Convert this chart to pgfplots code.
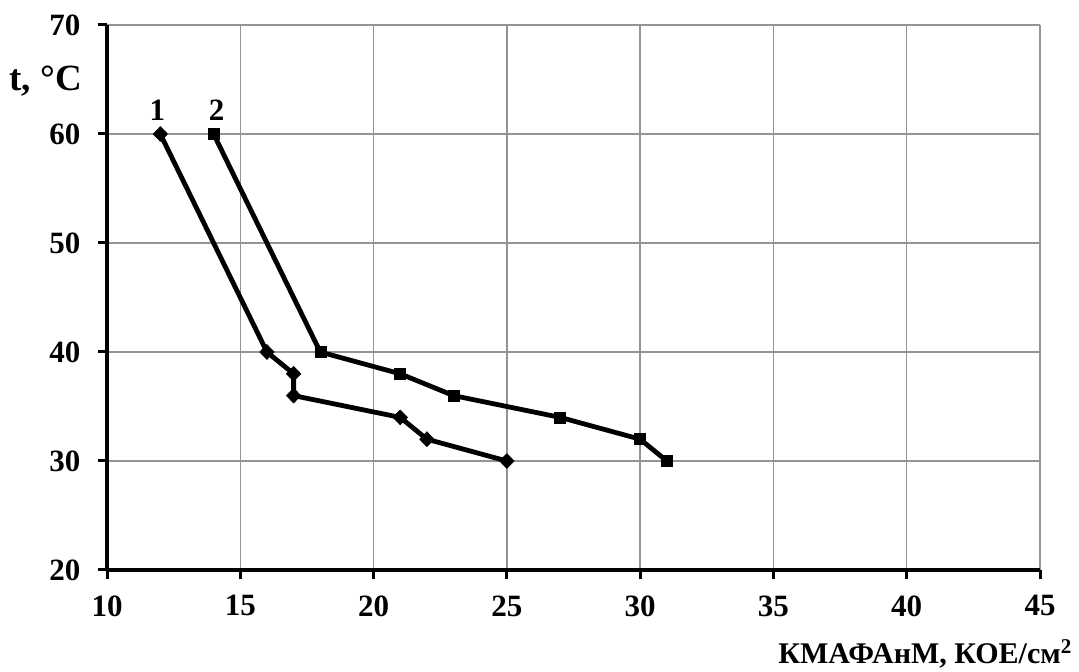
\documentclass[border=0pt]{standalone}
\usepackage{fontspec}
\setmainfont{Liberation Serif}
\usepackage{pgfplots}
\pgfplotsset{compat=1.18}
\begin{document}
\begin{tikzpicture}
\path[use as bounding box] (0,0) rectangle (1079pt,672pt);
\begin{axis}[
  at={(107pt,102pt)}, anchor=south west,
  scale only axis, width=933pt, height=545pt,
  xmin=10, xmax=45, ymin=20, ymax=70,
  xtick={10,15,...,45}, ytick={20,30,...,70},
  axis x line*=bottom, axis y line*=left,
  axis line style={line width=4.5pt, -},
  grid=major,
  major grid style={line width=1.4pt, color=black!42},
  tick style={line width=3pt, black},
  tick align=outside, major tick length=9pt,
  /pgf/number format/assume math mode=true,
  tick label style={font=\fontsize{31}{33}\selectfont\bfseries},
  xticklabel style={yshift=-13pt},
  yticklabel style={xshift=-14pt},
  clip=false,
]
\addplot[line width=4.8pt, black, mark=diamond*, mark size=7.5pt, mark options={line width=0.5pt, xscale=1.3}]
  coordinates {(12,60) (16,40) (17,38) (17,36) (21,34) (22,32) (25,30)};
\addplot[line width=4.8pt, black, mark=square*, mark size=5.5pt, mark options={line width=0.5pt}]
  coordinates {(14,60) (18,40) (21,38) (23,36) (27,34) (30,32) (31,30)};
\node[anchor=south, font=\fontsize{31}{33}\selectfont\bfseries, inner sep=0pt] at ([yshift=13pt,xshift=-3pt]axis cs:12,60) {1};
\node[anchor=south, font=\fontsize{31}{33}\selectfont\bfseries, inner sep=0pt] at ([yshift=13pt,xshift=3pt]axis cs:14,60) {2};
\end{axis}
\node[anchor=east, inner sep=0pt, font=\fontsize{37}{40}\selectfont\bfseries] at (82pt,591pt) {t, °C};
\node[anchor=base east, inner sep=0pt, font=\fontsize{30}{34}\selectfont\bfseries] at (1072pt,9pt) {КМАФАнМ, КОЕ/см\textsuperscript{2}};
\end{tikzpicture}
\end{document}
